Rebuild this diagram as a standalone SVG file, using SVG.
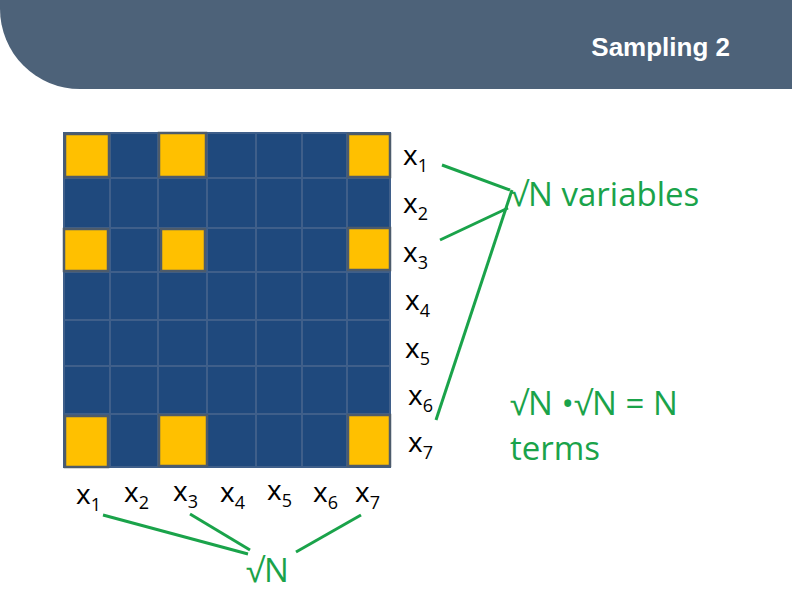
<svg xmlns="http://www.w3.org/2000/svg" width="792" height="594" viewBox="0 0 792 594">
<style>
.c{fill:#1f497d;stroke:#3f5f8a;stroke-width:2}
.y{fill:#ffc000;stroke:#4d5b6b;stroke-width:2.5}
.t{font-family:"Open Sans","DejaVu Sans",sans-serif;font-size:28px;fill:#000}
.s{font-size:18px}
.g{font-family:"Open Sans","DejaVu Sans",sans-serif;font-size:33px;fill:#1aa34a}
.l{stroke:#1aa34a;stroke-width:3;fill:none}
</style>
<path d="M0 0H792V89H80A80 80 0 0 1 0 9Z" fill="#4d6279"/>
<text x="730" y="56" text-anchor="end" font-family="Liberation Sans,sans-serif" font-weight="bold" font-size="26" fill="#fff">Sampling 2</text>
<g id="grid">
<rect x="64" y="133" width="326" height="334" fill="#1f497d"/>
<g class="c">
<rect x="64" y="133" width="46" height="45"/><rect x="110" y="133" width="48" height="45"/><rect x="158" y="133" width="49" height="45"/><rect x="207" y="133" width="49" height="45"/><rect x="256" y="133" width="46" height="45"/><rect x="302" y="133" width="45" height="45"/><rect x="347" y="133" width="43" height="45"/>
<rect x="64" y="178" width="46" height="50"/><rect x="110" y="178" width="48" height="50"/><rect x="158" y="178" width="49" height="50"/><rect x="207" y="178" width="49" height="50"/><rect x="256" y="178" width="46" height="50"/><rect x="302" y="178" width="45" height="50"/><rect x="347" y="178" width="43" height="50"/>
<rect x="64" y="228" width="46" height="44"/><rect x="110" y="228" width="48" height="44"/><rect x="158" y="228" width="49" height="44"/><rect x="207" y="228" width="49" height="44"/><rect x="256" y="228" width="46" height="44"/><rect x="302" y="228" width="45" height="44"/><rect x="347" y="228" width="43" height="44"/>
<rect x="64" y="272" width="46" height="48"/><rect x="110" y="272" width="48" height="48"/><rect x="158" y="272" width="49" height="48"/><rect x="207" y="272" width="49" height="48"/><rect x="256" y="272" width="46" height="48"/><rect x="302" y="272" width="45" height="48"/><rect x="347" y="272" width="43" height="48"/>
<rect x="64" y="320" width="46" height="46"/><rect x="110" y="320" width="48" height="46"/><rect x="158" y="320" width="49" height="46"/><rect x="207" y="320" width="49" height="46"/><rect x="256" y="320" width="46" height="46"/><rect x="302" y="320" width="45" height="46"/><rect x="347" y="320" width="43" height="46"/>
<rect x="64" y="366" width="46" height="48"/><rect x="110" y="366" width="48" height="48"/><rect x="158" y="366" width="49" height="48"/><rect x="207" y="366" width="49" height="48"/><rect x="256" y="366" width="46" height="48"/><rect x="302" y="366" width="45" height="48"/><rect x="347" y="366" width="43" height="48"/>
<rect x="64" y="414" width="46" height="53"/><rect x="110" y="414" width="48" height="53"/><rect x="158" y="414" width="49" height="53"/><rect x="207" y="414" width="49" height="53"/><rect x="256" y="414" width="46" height="53"/><rect x="302" y="414" width="45" height="53"/><rect x="347" y="414" width="43" height="53"/>
</g>
<g class="y">
<rect x="65" y="134" width="44" height="43"/><rect x="159" y="133" width="47" height="44"/><rect x="348" y="134" width="42" height="43"/>
<rect x="64" y="229" width="44" height="42"/><rect x="161" y="229" width="44" height="42"/><rect x="348" y="228" width="42" height="42"/>
<rect x="65" y="416" width="43" height="51"/><rect x="159" y="415" width="48" height="51"/><rect x="348" y="415" width="42" height="51"/>
</g>
</g>
<g id="rowlabels" class="t">
<text x="403" y="165">x<tspan class="s" dy="7">1</tspan></text>
<text x="403" y="213">x<tspan class="s" dy="7">2</tspan></text>
<text x="403" y="262">x<tspan class="s" dy="7">3</tspan></text>
<text x="405" y="310">x<tspan class="s" dy="7">4</tspan></text>
<text x="405" y="358">x<tspan class="s" dy="7">5</tspan></text>
<text x="408" y="405">x<tspan class="s" dy="7">6</tspan></text>
<text x="408" y="452">x<tspan class="s" dy="7">7</tspan></text>
</g>
<g id="collabels" class="t">
<text x="76" y="504">x<tspan class="s" dy="7">1</tspan></text>
<text x="124" y="502">x<tspan class="s" dy="7">2</tspan></text>
<text x="173" y="501">x<tspan class="s" dy="7">3</tspan></text>
<text x="220" y="502">x<tspan class="s" dy="7">4</tspan></text>
<text x="267" y="500">x<tspan class="s" dy="7">5</tspan></text>
<text x="313" y="502">x<tspan class="s" dy="7">6</tspan></text>
<text x="355" y="502">x<tspan class="s" dy="7">7</tspan></text>
</g>
<g id="connectors" class="l">
<line x1="442" y1="165" x2="510" y2="190"/>
<line x1="440" y1="240" x2="508" y2="208"/>
<line x1="436" y1="420" x2="512" y2="190"/>
<line x1="103" y1="515" x2="248" y2="554"/>
<line x1="190" y1="514" x2="250" y2="550"/>
<line x1="361" y1="515" x2="296" y2="552"/>
</g>
<text class="g" x="246" y="582">√N</text>
<text class="g" x="510" y="206">√N variables</text>
<text class="g" x="510" y="415">√N •√N = N</text>
<text class="g" x="510" y="460">terms</text>
</svg>
